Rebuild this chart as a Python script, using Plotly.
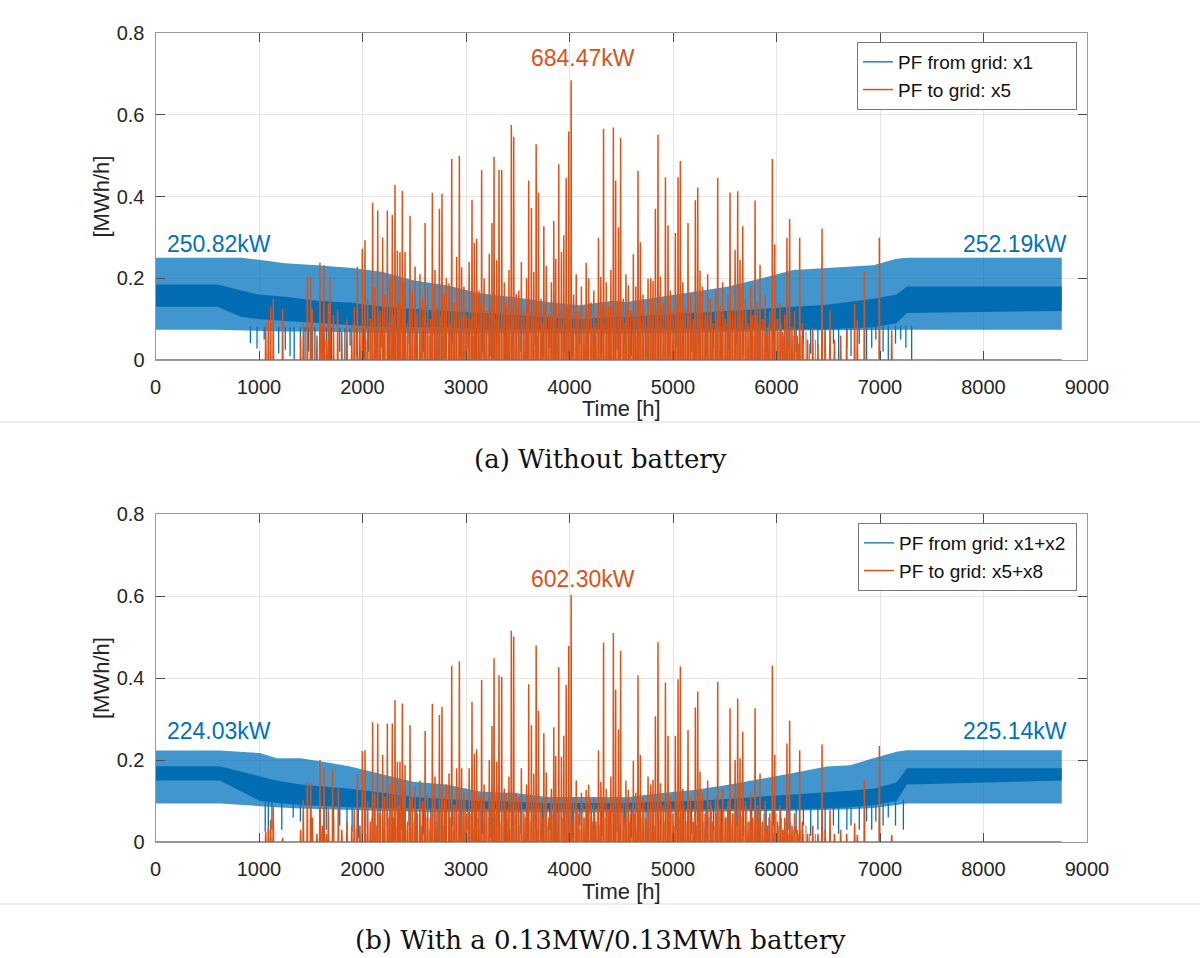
import numpy as np
import plotly.graph_objects as go

W, H = 1200, 958

# ---------------- DATA ----------------
# (a) without battery: blue envelope samples
blue_t_a = [0, 600, 830, 1000, 1250, 1560, 1900, 2200, 2490, 2810, 3135, 3457, 3780, 4100, 4420,
            4550, 4870, 5200, 5520, 5840, 6160, 6485, 6935, 7160, 7260, 8756]
upper_a = [0.25, 0.25, 0.25, 0.245, 0.237, 0.232, 0.225, 0.215, 0.195, 0.183, 0.163, 0.154, 0.142,
           0.134, 0.145, 0.142, 0.154, 0.167, 0.179, 0.199, 0.22, 0.225, 0.232, 0.248, 0.25, 0.25]
lower_a = [0.074, 0.074, 0.073, 0.072, 0.07, 0.07, 0.068, 0.066, 0.065, 0.065, 0.064, 0.064, 0.064,
           0.064, 0.064, 0.064, 0.065, 0.066, 0.068, 0.07, 0.072, 0.073, 0.073, 0.074, 0.074, 0.074]
core_lo_a = [0.13, 0.13, 0.105, 0.10, 0.095, 0.09, 0.085, 0.08, 0.08, 0.08, 0.075, 0.075, 0.075,
             0.075, 0.075, 0.075, 0.075, 0.075, 0.075, 0.075, 0.075, 0.075, 0.08, 0.09, 0.115, 0.12]
core_hi_a = [0.185, 0.185, 0.17, 0.16, 0.155, 0.145, 0.14, 0.13, 0.125, 0.12, 0.115, 0.11, 0.105,
             0.10, 0.105, 0.105, 0.11, 0.115, 0.12, 0.125, 0.13, 0.135, 0.15, 0.16, 0.18, 0.18]

dip_t_a = [917, 981, 1050, 1190, 1254, 1300, 1340, 1400, 1445, 1480,
           1540, 1600, 1650, 1700, 1780, 1830, 1880, 1940, 2010, 2060,
           2130, 2180, 2250, 2320, 2390, 2450, 2520, 2590, 2660, 2730,
           2800, 2870, 2950, 3020, 3090, 3160, 3240, 3310, 3380, 3450,
           3530, 3600, 3670, 3740, 3810, 3880, 3950, 4030, 4100, 4170,
           4240, 4310, 4390, 4460, 4530, 4600, 4670, 4740, 4810, 4880,
           4960, 5030, 5100, 5180, 5250, 5320, 5390, 5470, 5540, 5610,
           5680, 5760, 5830, 5900, 5970, 6040, 6120, 6190, 6260, 6330,
           6400, 6470, 6550, 6600, 6680, 6720, 6800, 6870, 6920, 6960,
           7030, 7080, 7150, 7200, 7250, 7306]
dip_v_a = [0.041, 0.028, 0.05, 0.016, 0.025, 0.01, 0.0, 0.03, 0.0, 0.02,
           0.0, 0.015, 0.03, 0.0, 0.02, 0.0, 0.035, 0.01, 0.0, 0.02,
           0.005, 0.03, 0.0, 0.02, 0.01, 0.04, 0.0, 0.02, 0.03, 0.0,
           0.015, 0.04, 0.01, 0.03, 0.0, 0.02, 0.01, 0.04, 0.0, 0.03,
           0.02, 0.0, 0.035, 0.01, 0.03, 0.0, 0.02, 0.01, 0.04, 0.0,
           0.03, 0.015, 0.0, 0.025, 0.04, 0.01, 0.03, 0.0, 0.02, 0.035,
           0.01, 0.03, 0.0, 0.02, 0.04, 0.01, 0.03, 0.0, 0.025, 0.04,
           0.015, 0.03, 0.0, 0.02, 0.04, 0.01, 0.03, 0.02, 0.04, 0.015,
           0.03, 0.02, 0.04, 0.0, 0.03, 0.01, 0.04, 0.0, 0.03, 0.05,
           0.02, 0.0, 0.04, 0.05, 0.03, 0.0]

peak_t_a = [1065, 1090, 1113, 1138, 1228, 1402, 1428, 1467, 1499, 1515,
            1589, 1628, 1670, 1686, 1760, 1896, 1950, 1998, 2024, 2098,
            2147, 2195, 2240, 2288, 2314, 2337, 2362, 2385, 2411, 2459,
            2508, 2605, 2675, 2743, 2768, 2836, 2862, 2910, 2936, 2958,
            3058, 3080, 3103, 3151, 3251, 3271, 3297, 3319, 3345, 3438,
            3461, 3484, 3606, 3632, 3655, 3678, 3700, 3752, 3848, 3867,
            3896, 3922, 3945, 3968, 3993, 4016, 4161, 4280, 4303, 4329,
            4424, 4446, 4473, 4494, 4568, 4617, 4662, 4685, 4759, 4807,
            4830, 4855, 4878, 4927, 4952, 5023, 5049, 5071, 5145, 5216,
            5239, 5261, 5432, 5551, 5600, 5625, 5648, 5674, 5793, 5841,
            5960, 5983, 6101, 6127, 6224, 6440, 6517, 6678, 6755, 6781,
            6849, 6994, 7113]
peak_v_a = [0.089, 0.097, 0.130, 0.150, 0.126, 0.057, 0.089, 0.205, 0.205, 0.124,
            0.238, 0.232, 0.138, 0.203, 0.124, 0.083, 0.228, 0.272, 0.293, 0.385,
            0.366, 0.300, 0.366, 0.355, 0.428, 0.268, 0.264, 0.414, 0.264, 0.353,
            0.229, 0.335, 0.409, 0.370, 0.407, 0.188, 0.492, 0.252, 0.500, 0.227,
            0.392, 0.286, 0.297, 0.465, 0.335, 0.497, 0.244, 0.465, 0.465, 0.575,
            0.546, 0.162, 0.439, 0.372, 0.215, 0.528, 0.409, 0.327, 0.340, 0.247,
            0.479, 0.264, 0.305, 0.445, 0.559, 0.6845, 0.238, 0.299, 0.203, 0.566,
            0.569, 0.439, 0.325, 0.543, 0.183, 0.259, 0.463, 0.288, 0.199, 0.193,
            0.370, 0.551, 0.205, 0.447, 0.329, 0.311, 0.447, 0.487, 0.335, 0.391,
            0.422, 0.219, 0.445, 0.410, 0.270, 0.413, 0.245, 0.327, 0.390, 0.233,
            0.492, 0.283, 0.299, 0.345, 0.299, 0.322, 0.122, 0.073, 0.137, 0.097,
            0.215, 0.299, 0.073]

small_t = [1560, 1610, 1650, 1720, 1800, 1850, 1920, 1975, 2050, 2075,
           2120, 2170, 2215, 2265, 2300, 2350, 2400, 2435, 2480, 2530,
           2555, 2580, 2630, 2655, 2700, 2720, 2790, 2810, 2885, 2980,
           3005, 3030, 3125, 3175, 3200, 3225, 3370, 3395, 3415, 3510,
           3535, 3560, 3585, 3725, 3775, 3800, 3825, 4040, 4065, 4090,
           4115, 4140, 4185, 4210, 4235, 4255, 4355, 4380, 4400, 4520,
           4545, 4590, 4640, 4710, 4735, 4785, 4905, 4975, 5000, 5095,
           5120, 5170, 5195, 5285, 5310, 5335, 5360, 5385, 5410, 5455,
           5480, 5505, 5530, 5575, 5700, 5725, 5750, 5770, 5815, 5865,
           5890, 5915, 5935, 6010, 6035, 6060, 6080, 6150, 6175, 6200,
           6250, 6300, 6350, 6400, 6470, 6560, 6620]
small_v_a = [0.06, 0.09, 0.05, 0.11, 0.07, 0.10, 0.13, 0.08, 0.15, 0.10,
             0.18, 0.12, 0.16, 0.20, 0.11, 0.14, 0.19, 0.09, 0.17, 0.12,
             0.21, 0.15, 0.18, 0.10, 0.22, 0.13, 0.16, 0.20, 0.14, 0.18,
             0.11, 0.24, 0.17, 0.20, 0.12, 0.26, 0.19, 0.13, 0.22, 0.17,
             0.24, 0.12, 0.20, 0.15, 0.23, 0.11, 0.19, 0.16, 0.21, 0.12,
             0.18, 0.10, 0.20, 0.14, 0.17, 0.09, 0.19, 0.13, 0.22, 0.15,
             0.21, 0.12, 0.18, 0.16, 0.11, 0.20, 0.14, 0.17, 0.12, 0.19,
             0.13, 0.16, 0.10, 0.18, 0.12, 0.21, 0.15, 0.09, 0.17, 0.13,
             0.19, 0.10, 0.16, 0.12, 0.15, 0.09, 0.18, 0.11, 0.14, 0.10,
             0.16, 0.08, 0.12, 0.10, 0.14, 0.07, 0.11, 0.08, 0.12, 0.06,
             0.09, 0.05, 0.08, 0.04, 0.07, 0.05, 0.06]

# low daily export humps filling the dense summer mass
base_t = [1940, 2000, 2035, 2090, 2135, 2160, 2205, 2250, 2280, 2325,
          2370, 2420, 2450, 2495, 2520, 2570, 2595, 2615, 2645, 2690,
          2710, 2755, 2780, 2800, 2850, 2875, 2900, 2925, 2945, 2970,
          2995, 3020, 3045, 3070, 3090, 3115, 3140, 3165, 3190, 3215,
          3240, 3260, 3285, 3310, 3330, 3360, 3385, 3405, 3425, 3450,
          3475, 3500, 3520, 3550, 3575, 3595, 3620, 3645, 3668, 3690,
          3715, 3740, 3765, 3790, 3815, 3838, 3858, 3880, 3908, 3935,
          3958, 3980, 4005, 4030, 4055, 4078, 4103, 4128, 4150, 4175,
          4200, 4222, 4245, 4268, 4292, 4318, 4342, 4368, 4392, 4412,
          4435, 4460, 4484, 4508, 4532, 4556, 4580, 4605, 4628, 4650,
          4675, 4698, 4722, 4748, 4772, 4796, 4820, 4843, 4866, 4890,
          4915, 4940, 4963, 4988, 5012, 5036, 5060, 5083, 5108, 5133,
          5157, 5183, 5208, 5228, 5250, 5272, 5297, 5322, 5347, 5372,
          5397, 5422, 5444, 5468, 5493, 5518, 5542, 5563, 5588, 5612,
          5636, 5660, 5686, 5712, 5738, 5760, 5782, 5805, 5828, 5852,
          5878, 5903, 5925, 5948, 5972, 5995, 6022, 6047, 6070, 6092,
          6115, 6138, 6162, 6188, 6212, 6236, 6262, 6285, 6320, 6375]
base_v_a = [0.06, 0.08, 0.05, 0.09, 0.07, 0.10, 0.06, 0.09, 0.11, 0.07,
            0.10, 0.06, 0.12, 0.08, 0.11, 0.07, 0.13, 0.09, 0.06, 0.12,
            0.08, 0.11, 0.07, 0.13, 0.09, 0.06, 0.12, 0.10, 0.07, 0.11,
            0.13, 0.08, 0.10, 0.06, 0.12, 0.09, 0.14, 0.07, 0.11, 0.09,
            0.13, 0.07, 0.10, 0.12, 0.08, 0.11, 0.14, 0.09, 0.06, 0.12,
            0.10, 0.13, 0.07, 0.11, 0.09, 0.14, 0.08, 0.12, 0.10, 0.06,
            0.12, 0.09, 0.13, 0.07, 0.11, 0.10, 0.14, 0.08, 0.12, 0.09,
            0.07, 0.13, 0.10, 0.08, 0.12, 0.11, 0.06, 0.13, 0.09, 0.11,
            0.14, 0.08, 0.10, 0.12, 0.07, 0.13, 0.09, 0.11, 0.08, 0.12,
            0.10, 0.14, 0.07, 0.11, 0.09, 0.13, 0.08, 0.12, 0.10, 0.06,
            0.12, 0.09, 0.13, 0.08, 0.11, 0.10, 0.07, 0.12, 0.09, 0.13,
            0.08, 0.11, 0.10, 0.12, 0.07, 0.13, 0.09, 0.10, 0.12, 0.08,
            0.11, 0.09, 0.12, 0.07, 0.10, 0.13, 0.08, 0.11, 0.09, 0.12,
            0.07, 0.10, 0.12, 0.08, 0.11, 0.09, 0.13, 0.07, 0.10, 0.08,
            0.11, 0.09, 0.07, 0.12, 0.08, 0.10, 0.06, 0.11, 0.09, 0.07,
            0.10, 0.06, 0.09, 0.08, 0.05, 0.10, 0.07, 0.09, 0.06, 0.08,
            0.05, 0.08, 0.06, 0.07, 0.04, 0.06, 0.05, 0.07, 0.04, 0.05]

# (b) with battery
blue_t_b = [0, 623, 1010, 1170, 1400, 1620, 1880, 2200, 2490, 2810, 3135, 3457, 3780, 4100,
            4420, 4550, 4870, 5200, 5520, 5840, 6160, 6485, 6710, 6935, 7160, 7260, 8756]
upper_b = [0.223, 0.223, 0.217, 0.204, 0.204, 0.196, 0.184, 0.165, 0.147, 0.14, 0.123, 0.12, 0.11,
           0.11, 0.11, 0.109, 0.119, 0.127, 0.139, 0.153, 0.168, 0.184, 0.187, 0.204, 0.22, 0.224, 0.224]
lower_b = [0.094, 0.094, 0.088, 0.085, 0.082, 0.08, 0.078, 0.076, 0.074, 0.073, 0.072, 0.072, 0.072,
           0.072, 0.072, 0.072, 0.072, 0.073, 0.074, 0.075, 0.076, 0.078, 0.08, 0.083, 0.09, 0.094, 0.094]
core_lo_b = [0.15, 0.15, 0.10, 0.095, 0.09, 0.088, 0.085, 0.083, 0.082, 0.08, 0.08, 0.08, 0.08,
             0.08, 0.08, 0.08, 0.08, 0.08, 0.08, 0.08, 0.08, 0.082, 0.085, 0.09, 0.10, 0.14, 0.15]
core_hi_b = [0.185, 0.185, 0.16, 0.15, 0.14, 0.135, 0.13, 0.12, 0.11, 0.105, 0.10, 0.098, 0.095,
             0.095, 0.095, 0.095, 0.098, 0.10, 0.105, 0.11, 0.115, 0.12, 0.125, 0.13, 0.145, 0.18, 0.18]

dip_t_b = [1060, 1090, 1125, 1220, 1330, 1400, 1500, 1590, 1650, 1720,
           1780, 1850, 1900, 1960, 2030, 2100, 2170, 2240, 2310, 2380,
           2450, 2520, 2590, 2660, 2730, 2800, 2870, 2950, 3020, 3090,
           3160, 3240, 3310, 3380, 3450, 3530, 3600, 3670, 3740, 3810,
           3880, 3950, 4030, 4100, 4170, 4240, 4310, 4390, 4460, 4530,
           4600, 4670, 4740, 4810, 4880, 4960, 5030, 5100, 5180, 5250,
           5320, 5390, 5470, 5540, 5610, 5680, 5760, 5830, 5900, 5970,
           6040, 6120, 6190, 6260, 6330, 6400, 6470, 6550, 6600, 6680,
           6720, 6800, 6870, 6920, 6960, 7030, 7080, 7150, 7226]
dip_v_b = [0.025, 0.02, 0.03, 0.03, 0.06, 0.05, 0.04, 0.0, 0.03, 0.02,
           0.04, 0.03, 0.025, 0.01, 0.03, 0.0, 0.02, 0.04, 0.01, 0.03,
           0.04, 0.0, 0.02, 0.03, 0.0, 0.015, 0.04, 0.01, 0.03, 0.0,
           0.02, 0.01, 0.04, 0.0, 0.03, 0.02, 0.0, 0.035, 0.01, 0.03,
           0.0, 0.02, 0.01, 0.04, 0.0, 0.03, 0.015, 0.0, 0.025, 0.04,
           0.01, 0.03, 0.0, 0.02, 0.035, 0.01, 0.03, 0.0, 0.02, 0.04,
           0.01, 0.03, 0.0, 0.025, 0.04, 0.015, 0.03, 0.0, 0.02, 0.04,
           0.01, 0.03, 0.02, 0.04, 0.015, 0.03, 0.02, 0.04, 0.02, 0.03,
           0.04, 0.03, 0.05, 0.03, 0.05, 0.04, 0.06, 0.04, 0.03]

peak_t_b = [1065, 1090, 1113, 1138, 1228, 1402, 1428, 1467, 1499, 1515,
            1589, 1628, 1670, 1712, 1767, 1896, 1950, 1998, 2024, 2098,
            2147, 2195, 2240, 2288, 2314, 2337, 2362, 2385, 2411, 2459,
            2508, 2605, 2675, 2743, 2768, 2836, 2862, 2910, 2936, 2958,
            3058, 3080, 3103, 3151, 3251, 3271, 3297, 3319, 3345, 3438,
            3461, 3484, 3606, 3632, 3655, 3678, 3700, 3752, 3848, 3867,
            3896, 3922, 3945, 3968, 3993, 4016, 4161, 4280, 4303, 4329,
            4424, 4446, 4473, 4494, 4568, 4617, 4662, 4685, 4759, 4807,
            4830, 4855, 4878, 4927, 4952, 5023, 5049, 5071, 5145, 5216,
            5239, 5261, 5432, 5551, 5600, 5625, 5648, 5674, 5793, 5841,
            5960, 5983, 6101, 6127, 6224, 6440, 6517, 6678, 6755, 6781,
            6849, 6994, 7113]
peak_v_b = [0.025, 0.033, 0.054, 0.089, 0.010, 0.030, 0.102, 0.147, 0.143, 0.060,
            0.200, 0.180, 0.080, 0.176, 0.131, 0.040, 0.167, 0.222, 0.224, 0.292,
            0.289, 0.212, 0.289, 0.289, 0.346, 0.196, 0.196, 0.338, 0.188, 0.285,
            0.135, 0.271, 0.337, 0.310, 0.330, 0.167, 0.430, 0.180, 0.441, 0.180,
            0.342, 0.215, 0.226, 0.395, 0.283, 0.448, 0.196, 0.407, 0.403, 0.515,
            0.501, 0.120, 0.385, 0.285, 0.167, 0.479, 0.320, 0.265, 0.280, 0.210,
            0.426, 0.208, 0.259, 0.383, 0.478, 0.6023, 0.127, 0.224, 0.147, 0.486,
            0.510, 0.372, 0.275, 0.466, 0.127, 0.198, 0.406, 0.212, 0.160, 0.152,
            0.307, 0.487, 0.143, 0.389, 0.259, 0.259, 0.397, 0.428, 0.273, 0.328,
            0.367, 0.172, 0.391, 0.326, 0.200, 0.350, 0.204, 0.269, 0.326, 0.167,
            0.430, 0.212, 0.240, 0.296, 0.224, 0.238, 0.078, 0.020, 0.046, 0.017,
            0.152, 0.234, 0.017]
small_v_b = [0.02, 0.04, 0.02, 0.06, 0.03, 0.05, 0.08, 0.04, 0.10, 0.05,
             0.12, 0.07, 0.11, 0.14, 0.06, 0.09, 0.13, 0.05, 0.11, 0.07,
             0.15, 0.10, 0.12, 0.06, 0.16, 0.08, 0.11, 0.14, 0.09, 0.12,
             0.07, 0.18, 0.11, 0.14, 0.08, 0.20, 0.13, 0.08, 0.16, 0.11,
             0.18, 0.07, 0.14, 0.10, 0.17, 0.06, 0.13, 0.11, 0.15, 0.07,
             0.12, 0.06, 0.14, 0.09, 0.11, 0.05, 0.13, 0.08, 0.16, 0.10,
             0.15, 0.07, 0.12, 0.11, 0.06, 0.14, 0.09, 0.11, 0.07, 0.13,
             0.08, 0.11, 0.05, 0.12, 0.07, 0.15, 0.10, 0.05, 0.11, 0.08,
             0.13, 0.06, 0.10, 0.07, 0.10, 0.05, 0.12, 0.06, 0.09, 0.05,
             0.10, 0.04, 0.07, 0.05, 0.09, 0.03, 0.06, 0.04, 0.07, 0.03,
             0.05, 0.02, 0.04, 0.02, 0.03, 0.02, 0.03]
base_v_b = [0.03, 0.05, 0.02, 0.06, 0.04, 0.07, 0.03, 0.06, 0.08, 0.04,
            0.07, 0.03, 0.09, 0.05, 0.08, 0.04, 0.10, 0.06, 0.03, 0.09,
            0.05, 0.08, 0.04, 0.10, 0.06, 0.03, 0.09, 0.07, 0.04, 0.08,
            0.10, 0.05, 0.07, 0.03, 0.09, 0.06, 0.11, 0.04, 0.08, 0.06,
            0.10, 0.04, 0.07, 0.09, 0.05, 0.08, 0.11, 0.06, 0.03, 0.09,
            0.07, 0.10, 0.04, 0.08, 0.06, 0.11, 0.05, 0.09, 0.07, 0.03,
            0.09, 0.06, 0.10, 0.04, 0.08, 0.07, 0.11, 0.05, 0.09, 0.06,
            0.04, 0.10, 0.07, 0.05, 0.09, 0.08, 0.03, 0.10, 0.06, 0.08,
            0.11, 0.05, 0.07, 0.09, 0.04, 0.10, 0.06, 0.08, 0.05, 0.09,
            0.07, 0.11, 0.04, 0.08, 0.06, 0.10, 0.05, 0.09, 0.07, 0.03,
            0.09, 0.06, 0.10, 0.05, 0.08, 0.07, 0.04, 0.09, 0.06, 0.10,
            0.05, 0.08, 0.07, 0.09, 0.04, 0.10, 0.06, 0.07, 0.09, 0.05,
            0.08, 0.06, 0.09, 0.04, 0.07, 0.10, 0.05, 0.08, 0.06, 0.09,
            0.04, 0.07, 0.09, 0.05, 0.08, 0.06, 0.10, 0.04, 0.07, 0.05,
            0.08, 0.06, 0.04, 0.09, 0.05, 0.07, 0.03, 0.08, 0.06, 0.04,
            0.07, 0.03, 0.06, 0.05, 0.02, 0.07, 0.04, 0.06, 0.03, 0.05,
            0.02, 0.05, 0.03, 0.04, 0.02, 0.03, 0.02, 0.04, 0.02, 0.02]

END_T = 8756
x_ticks = [0, 1000, 2000, 3000, 4000, 5000, 6000, 7000, 8000, 9000]
y_ticks = [0, 0.2, 0.4, 0.6, 0.8]

NBSP = "\u00a0"
panels = [
    dict(bt=blue_t_a, up=upper_a, lo=lower_a, clo=core_lo_a, chi=core_hi_a,
         dt=dip_t_a, dv=dip_v_a, pt=peak_t_a + small_t, pv=peak_v_a + small_v_a,
         bv=base_v_a,
         blue_name="PF from grid: x1" + NBSP * 7, orange_name="PF to grid: x5",
         left_lbl="250.82kW", right_lbl="252.19kW", peak_lbl="684.47kW",
         lbl_y=0.283, peak_y=0.738, caption="(a) Without battery"),
    dict(bt=blue_t_b, up=upper_b, lo=lower_b, clo=core_lo_b, chi=core_hi_b,
         dt=dip_t_b, dv=dip_v_b, pt=peak_t_b + small_t, pv=peak_v_b + small_v_b,
         bv=base_v_b,
         blue_name="PF from grid: x1+x2" + NBSP, orange_name="PF to grid: x5+x8",
         left_lbl="224.03kW", right_lbl="225.14kW", peak_lbl="602.30kW",
         lbl_y=0.271, peak_y=0.641, caption="(b) With a 0.13MW/0.13MWh battery"),
]

# ---------------- LAYOUT GEOMETRY (pixels) ----------------
PX_L, PX_R = 155.5, 1087
PANEL_PX = [(33, 360), (514, 842)]
TITLE_X_PX = [409, 891]
CAPTION_PX = [459, 940]
SEP_PX = [422, 904]

BLUE = "#0072BD"
ORANGE = "#D95319"
SANS = "Liberation Sans, Arial, Helvetica, sans-serif"
SERIF = "DejaVu Serif, Liberation Serif, serif"


def py(p):
    return 1 - p / H


fig = go.Figure()
annotations = []
shapes = []

for i, P in enumerate(panels):
    xa = "x" if i == 0 else "x2"
    ya = "y" if i == 0 else "y2"
    leg = "legend" if i == 0 else "legend2"
    assert len(P["bt"]) == len(P["up"]) == len(P["lo"]) == len(P["clo"]) == len(P["chi"])
    assert len(P["dt"]) == len(P["dv"]) and len(P["pt"]) == len(P["pv"])
    assert len(base_t) == len(P["bv"])

    bt = list(P["bt"])
    fig.add_trace(go.Scatter(x=bt + bt[::-1], y=list(P["up"]) + list(P["lo"])[::-1],
                             fill="toself", fillcolor="rgba(0,114,189,0.74)",
                             line=dict(width=0), mode="lines", hoverinfo="skip",
                             showlegend=False, xaxis=xa, yaxis=ya))
    fig.add_trace(go.Scatter(x=bt + bt[::-1], y=list(P["chi"]) + list(P["clo"])[::-1],
                             fill="toself", fillcolor="rgba(0,106,178,0.95)",
                             line=dict(width=0), mode="lines", hoverinfo="skip",
                             showlegend=False, xaxis=xa, yaxis=ya))
    lo_at = np.interp(P["dt"], P["bt"], P["lo"])
    dx, dy = [], []
    for t, v, l in zip(P["dt"], P["dv"], lo_at):
        dx += [t, t, None]
        dy += [l + 0.01, v, None]
    fig.add_trace(go.Scatter(x=dx, y=dy, mode="lines", line=dict(color=BLUE, width=1.3),
                             name=P["blue_name"], legend=leg, xaxis=xa, yaxis=ya))
    # thin low export humps (dense summer mass)
    bx, by = [], []
    for t, v in zip(base_t, P["bv"]):
        bx += [t, t, None]
        by += [0, v, None]
    fig.add_trace(go.Scatter(x=bx, y=by, mode="lines", line=dict(color=ORANGE, width=0.9),
                             showlegend=False, hoverinfo="skip", xaxis=xa, yaxis=ya))
    # main export spikes with zero baseline
    order = np.argsort(P["pt"], kind="stable")
    ox, oy = [0], [0]
    for k in order:
        t, v = P["pt"][k], P["pv"][k]
        ox += [t - 3, t, t + 3]
        oy += [0, v, 0]
    ox.append(END_T)
    oy.append(0)
    fig.add_trace(go.Scatter(x=ox, y=oy, mode="lines", line=dict(color=ORANGE, width=1.5),
                             name=P["orange_name"], legend=leg, xaxis=xa, yaxis=ya))

    top_px, bot_px = PANEL_PX[i]
    ax_common = dict(showgrid=True, gridcolor="#e4e4e4", gridwidth=1, ticks="inside",
                     ticklen=9, tickcolor="#4d4d4d", mirror="ticks", showline=True,
                     linecolor="#9a9a9a", linewidth=1, zeroline=False,
                     tickfont=dict(family=SANS, size=20, color="#262626"), automargin=False)
    fig.update_layout(**{
        ("xaxis" if i == 0 else "xaxis2"): dict(
            domain=[PX_L / W, PX_R / W], range=[0, 9000], tickvals=x_ticks,
            anchor=ya, ticklabelstandoff=9, **ax_common),
        ("yaxis" if i == 0 else "yaxis2"): dict(
            domain=[py(bot_px), py(top_px)], range=[0, 0.8], tickvals=y_ticks,
            anchor=xa, ticklabelstandoff=6, **ax_common),
    })

    annotations += [
        dict(x=92, y=P["lbl_y"], xref=xa, yref=ya, text=P["left_lbl"], showarrow=False,
             xanchor="left", yanchor="middle", font=dict(family=SANS, size=23, color=BLUE)),
        dict(x=8829, y=P["lbl_y"], xref=xa, yref=ya, text=P["right_lbl"], showarrow=False,
             xanchor="right", yanchor="middle", font=dict(family=SANS, size=23, color=BLUE)),
        dict(x=4130, y=P["peak_y"], xref=xa, yref=ya, text=P["peak_lbl"], showarrow=False,
             xanchor="center", yanchor="middle", font=dict(family=SANS, size=23, color=ORANGE)),
        dict(x=(PX_L + PX_R) / 2 / W, y=py(TITLE_X_PX[i]), xref="paper", yref="paper",
             text="Time [h]", showarrow=False, xanchor="center", yanchor="middle",
             font=dict(family=SANS, size=22, color="#262626")),
        dict(x=101 / W, y=py((top_px + bot_px) / 2), xref="paper", yref="paper",
             text="[MWh/h]", showarrow=False, textangle=-90, xanchor="center", yanchor="middle",
             font=dict(family=SANS, size=22, color="#262626")),
        dict(x=0.5, y=py(CAPTION_PX[i]), xref="paper", yref="paper", text=P["caption"],
             showarrow=False, xanchor="center", yanchor="middle",
             font=dict(family=SERIF, size=26, color="#111111")),
    ]
    shapes.append(dict(type="line", xref="paper", yref="paper", x0=0, x1=1,
                       y0=py(SEP_PX[i]), y1=py(SEP_PX[i]),
                       line=dict(color="#dadada", width=1)))

legend_style = dict(bgcolor="white", bordercolor="#7a7a7a", borderwidth=1,
                    font=dict(family=SANS, size=19, color="#111111"),
                    xanchor="right", yanchor="top", tracegroupgap=0, itemwidth=30)
fig.update_layout(
    width=W, height=H, margin=dict(l=0, r=0, t=0, b=0),
    paper_bgcolor="white", plot_bgcolor="white",
    legend=dict(x=1077 / W, y=py(42), **legend_style),
    legend2=dict(x=1077 / W, y=py(523), **legend_style),
    annotations=annotations, shapes=shapes, showlegend=True,
)

fig.write_html("out.html")
